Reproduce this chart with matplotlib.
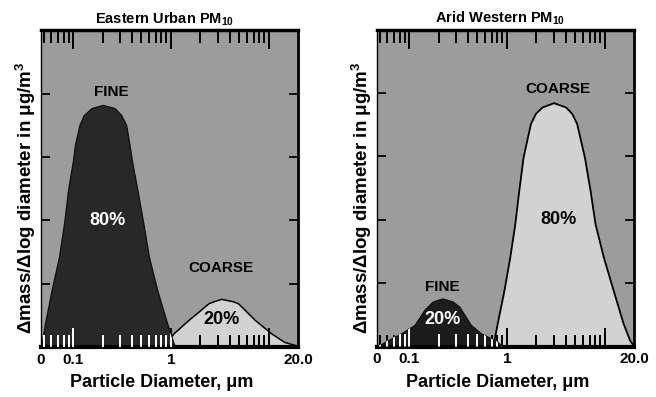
import matplotlib
matplotlib.use("Agg")
import matplotlib.pyplot as plt

plt.rcParams['font.family'] = ['Liberation Sans', 'DejaVu Sans']
plt.rcParams['font.weight'] = 'bold'
plt.rcParams['mathtext.fontset'] = 'custom'
plt.rcParams['mathtext.rm'] = 'Liberation Sans:bold'
plt.rcParams['mathtext.it'] = 'Liberation Sans:bold'
plt.rcParams['mathtext.bf'] = 'Liberation Sans:bold'

# Eastern urban PM10 (diameter in um, relative height 0-5)
east_fine_d = [0.047, 0.0518, 0.0604, 0.0718, 0.0811, 0.0889, 0.0993, 0.1047, 0.116, 0.129,
               0.1545, 0.201, 0.2655, 0.310, 0.349, 0.377, 0.401, 0.454,
               0.521, 0.596, 0.723, 0.912, 1.064, 1.12]
east_fine_h = [0.0, 0.38, 0.90, 1.42, 1.96, 2.48, 2.92, 3.19, 3.50, 3.66,
               3.77, 3.82, 3.77, 3.66, 3.50, 3.19, 2.92, 2.48,
               1.96, 1.42, 0.90, 0.38, 0.06, 0.0]
east_coarse_d = [0.757, 0.889, 1.072, 1.52, 1.995, 2.42, 2.72, 3.27, 4.33, 4.86,
                 7.18, 10.5, 14.4, 18.7, 20.0]
east_coarse_h = [0.0, 0.06, 0.22, 0.43, 0.58, 0.69, 0.72, 0.76, 0.72, 0.69,
                 0.43, 0.22, 0.08, 0.03, 0.02]

# Arid western PM10
west_fine_d = [0.047, 0.061, 0.0834, 0.1137, 0.1436, 0.174, 0.220, 0.279, 0.326, 0.428,
               0.541, 0.684, 0.797, 0.89]
west_fine_h = [0.0, 0.10, 0.21, 0.34, 0.58, 0.71, 0.76, 0.71, 0.63, 0.34,
               0.21, 0.13, 0.08, 0.0]
west_coarse_d = [0.709, 0.738, 0.797, 0.933, 1.072, 1.205, 1.324, 1.463, 1.740, 1.955,
                 2.281, 2.999, 4.00, 4.60, 5.17, 6.20, 7.08, 7.96, 9.66, 12.2,
                 15.4, 18.0, 20.0]
west_coarse_h = [0.0, 0.10, 0.37, 0.89, 1.42, 1.94, 2.47, 2.99, 3.52, 3.68,
                 3.78, 3.85, 3.78, 3.68, 3.52, 2.99, 2.47, 1.94, 1.42, 0.89,
                 0.37, 0.10, 0.0]

xtick_pos = [0.047, 0.1, 1, 10, 20]
xtick_lab = ['0', '0.1', '1', '', '20.0']
ytick_pos = [1, 2, 3, 4]

BG = '#9c9c9c'
DARK = '#282828'
LIGHT = '#d2d2d2'


def setup(ax, title):
    ax.set_facecolor(BG)
    ax.set_xscale('log')
    ax.set_xlim(0.047, 20)
    ax.set_ylim(0, 5)
    ax.set_xticks(xtick_pos, xtick_lab)
    ax.set_yticks(ytick_pos, [])
    ax.tick_params(axis='x', which='major', direction='in', top=True, bottom=True,
                   length=14, width=1.4, labelsize=11, pad=4)
    ax.tick_params(axis='x', which='minor', direction='in', top=True, bottom=True,
                   length=9, width=1.4)
    ax.tick_params(axis='y', direction='in', left=True, right=True, length=6.5, width=1.3)
    ticks = ax.xaxis.get_major_ticks()
    for i in (0, 4):
        for ln in (ticks[i].tick1line, ticks[i].tick2line):
            ln.set_visible(False)
    ax.spines['top'].set_linewidth(2.5)
    ax.spines['bottom'].set_linewidth(3)
    ax.spines['right'].set_linewidth(2)
    ax.spines['left'].set_linewidth(1)
    ax.set_title(title, fontsize=10.5, fontweight='bold', pad=5, x=0.48)
    ax.set_xlabel('Particle Diameter, μm', fontsize=13, fontweight='bold')
    ax.xaxis.set_label_coords(0.47, -0.085)
    ax.set_ylabel('Δmass/Δlog diameter in μg/m$^3$', fontsize=13.5, fontweight='bold')
    ax.yaxis.set_label_coords(-0.012, 0.47)


def white_ticks(ax, poly):
    # bottom ticks show white where they cross the dark fine mode
    tr = ax.get_xaxis_transform()
    mn = ax.vlines(ax.xaxis.get_minorticklocs(), 0, 0.039, colors='white', lw=1.4,
                   transform=tr, zorder=3)
    mj = ax.vlines([0.1, 1, 10], 0, 0.06, colors='white', lw=1.4, transform=tr, zorder=3)
    for v in (mn, mj):
        v.set_clip_path(poly.get_paths()[0], ax.transData)


fig = plt.figure(figsize=(6.56, 3.97), dpi=100)
ax1 = fig.add_axes([0.0625, 0.126, 0.392, 0.798])
ax2 = fig.add_axes([0.5747, 0.127, 0.392, 0.798])

setup(ax1, 'Eastern Urban PM$_{10}$')
ax1.fill_between(east_coarse_d, east_coarse_h, facecolor=LIGHT, edgecolor='black', lw=1.1, zorder=1)
p1 = ax1.fill_between(east_fine_d, east_fine_h, facecolor=DARK, edgecolor='#111111', lw=1.0, zorder=1.2)
white_ticks(ax1, p1)
ax1.text(0.246, 4.03, 'FINE', ha='center', va='center', fontsize=11, fontweight='bold')
ax1.text(0.226, 2.0, '80%', ha='center', va='center', fontsize=13, fontweight='bold', color='white')
ax1.text(3.27, 1.25, 'COARSE', ha='center', va='center', fontsize=11, fontweight='bold')
ax1.text(3.27, 0.43, '20%', ha='center', va='center', fontsize=13, fontweight='bold')

setup(ax2, 'Arid Western PM$_{10}$')
ax2.fill_between(west_coarse_d, west_coarse_h, facecolor=LIGHT, edgecolor='black', lw=1.3, zorder=1)
p2 = ax2.fill_between(west_fine_d, west_fine_h, facecolor='#1c1c1c', edgecolor='#111111', lw=1.0, zorder=1.2)
white_ticks(ax2, p2)
ax2.text(3.32, 4.07, 'COARSE', ha='center', va='center', fontsize=11, fontweight='bold')
ax2.text(3.37, 2.0, '80%', ha='center', va='center', fontsize=13, fontweight='bold')
ax2.text(0.22, 0.94, 'FINE', ha='center', va='center', fontsize=11, fontweight='bold')
ax2.text(0.22, 0.43, '20%', ha='center', va='center', fontsize=13, fontweight='bold', color='white')

fig.savefig('out.png', dpi=100)
